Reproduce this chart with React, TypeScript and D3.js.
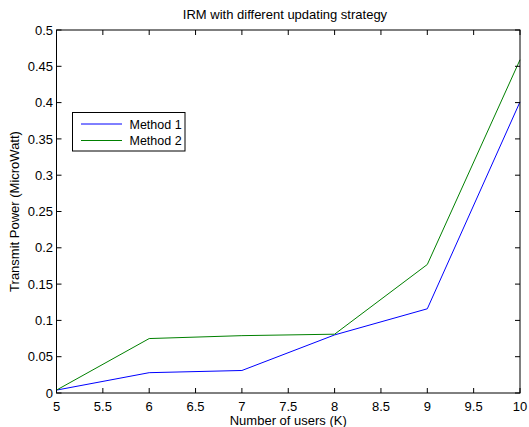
import React from "react";
import * as d3 from "d3";

const users = [5, 6, 7, 8, 9, 10];
const method1 = [0.004, 0.028, 0.031, 0.080, 0.116, 0.401];
const method2 = [0.004, 0.075, 0.079, 0.081, 0.177, 0.459];
const xTicks = [5, 5.5, 6, 6.5, 7, 7.5, 8, 8.5, 9, 9.5, 10];
const yTicks = [0, 0.05, 0.1, 0.15, 0.2, 0.25, 0.3, 0.35, 0.4, 0.45, 0.5];
const seriesNames = ["Method 1", "Method 2"];
const seriesColors = ["#0000ff", "#008000"];

export default function App() {
  const W = 529, H = 427;
  const L = 56.5, R = 520, T = 30, B = 393;
  const x = d3.scaleLinear().domain([5, 10]).range([L, R]);
  const y = d3.scaleLinear().domain([0, 0.5]).range([B, T]);
  const line = d3.line<number>().x((_, i) => x(users[i])).y((d) => y(d));
  const font = "'Liberation Sans', Arial, sans-serif";
  const tl = 5;
  const fs = 13;
  const series = [method1, method2];
  return (
    <svg width={W} height={H} style={{ position: "absolute", left: 0, top: 0, background: "#fff" }} fontFamily={font}>
      <rect x={0} y={0} width={W} height={H} fill="#fff" />
      {series.map((s, i) => (
        <path key={i} d={line(s) || ""} fill="none" stroke={seriesColors[i]} strokeWidth={1} />
      ))}
      <rect x={L} y={T} width={R - L} height={B - T} fill="none" stroke="#000" strokeWidth={1} />
      {xTicks.map((t) => (
        <g key={"x" + t}>
          <line x1={x(t)} x2={x(t)} y1={B} y2={B - tl} stroke="#000" />
          <line x1={x(t)} x2={x(t)} y1={T} y2={T + tl} stroke="#000" />
          <text x={x(t)} y={410.5} fontSize={fs} textAnchor="middle">{String(t)}</text>
        </g>
      ))}
      {yTicks.map((t) => (
        <g key={"y" + t}>
          <line x1={L} x2={L + tl} y1={y(t)} y2={y(t)} stroke="#000" />
          <line x1={R} x2={R - tl} y1={y(t)} y2={y(t)} stroke="#000" />
          <text x={L - 3.5} y={y(t) + 4.6} fontSize={fs} textAnchor="end">{String(t)}</text>
        </g>
      ))}
      <text x={285} y={18.5} fontSize={fs} textAnchor="middle">IRM with different updating strategy</text>
      <text x={(L + R) / 2} y={425} fontSize={fs} textAnchor="middle">Number of users (K)</text>
      <text transform={`translate(19,${(T + B) / 2}) rotate(-90)`} fontSize={fs} textAnchor="middle">Transmit Power (MicroWatt)</text>
      <rect x={72.5} y={112.5} width={112.5} height={38.5} fill="#fff" stroke="#000" strokeWidth={1} />
      {seriesNames.map((n, i) => (
        <g key={n}>
          <line x1={81} x2={122} y1={124 + i * 16.5} y2={124 + i * 16.5} stroke={seriesColors[i]} strokeWidth={1} />
          <text x={129.5} y={128.5 + i * 16.5} fontSize={12.5}>{n}</text>
        </g>
      ))}
    </svg>
  );
}
